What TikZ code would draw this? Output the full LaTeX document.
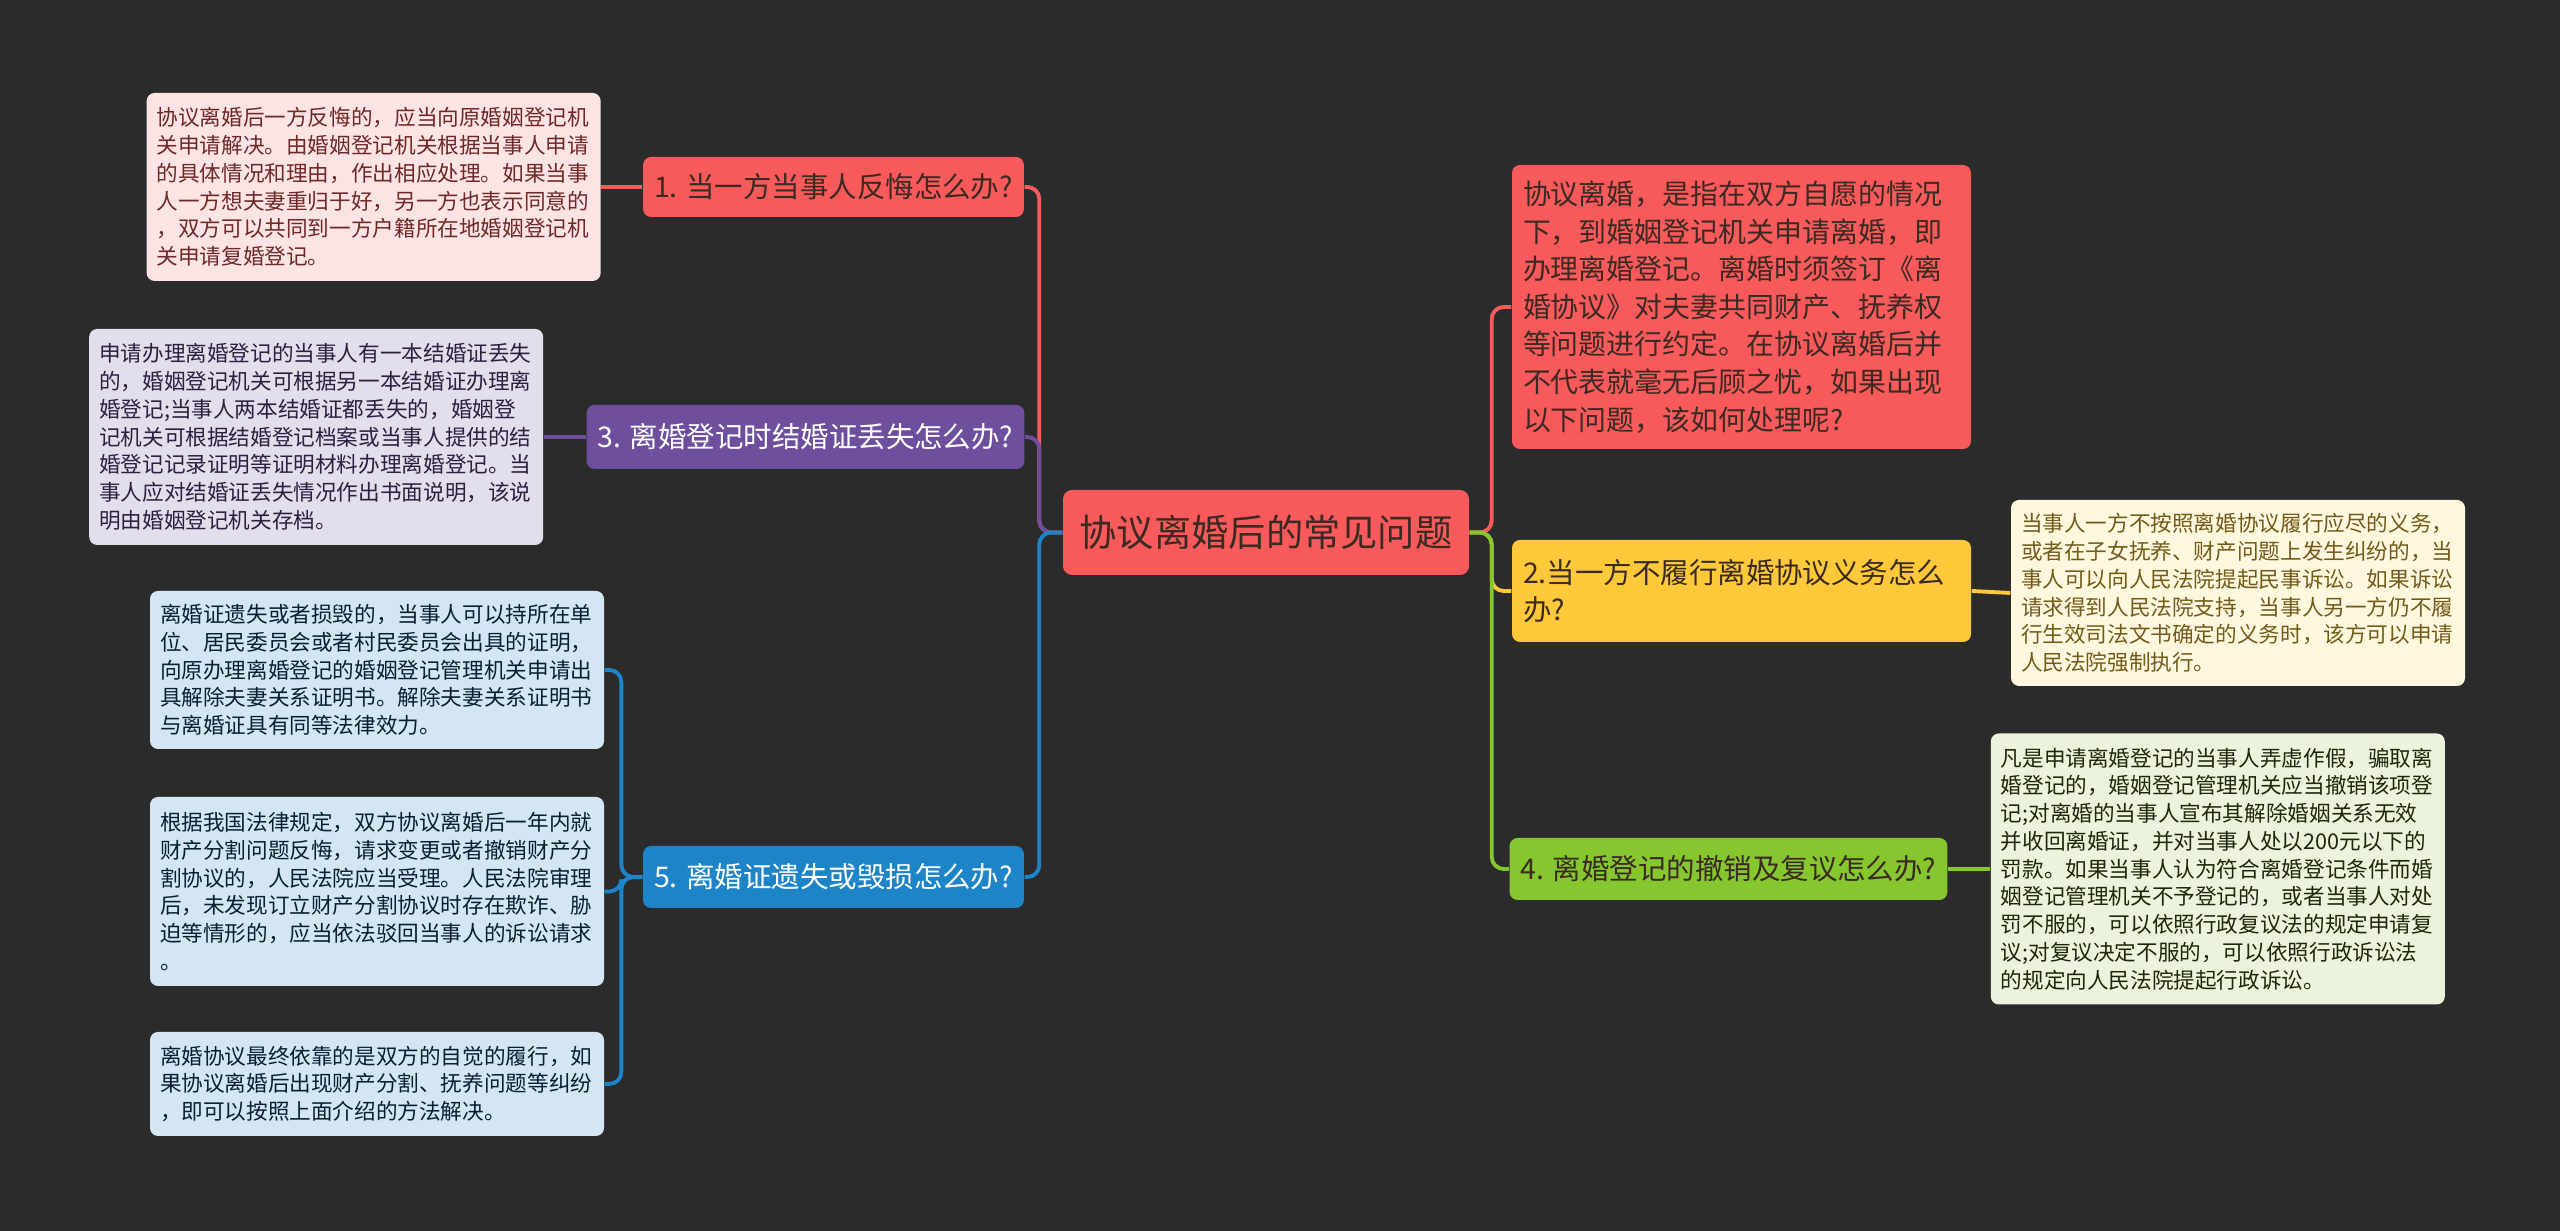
\documentclass[tikz,border=0pt]{standalone}
\usepackage{fontspec}
\setmainfont{Noto Sans CJK SC}
\usepackage{xcolor}
\usetikzlibrary{positioning}

\definecolor{beijing}{HTML}{2B2B2B}
\definecolor{hong}{HTML}{F85A5C}
\definecolor{zi}{HTML}{6E4F9E}
\definecolor{lan}{HTML}{1E84C8}
\definecolor{huang}{HTML}{FDC93A}
\definecolor{lv}{HTML}{86C72F}
\definecolor{fen}{HTML}{FDE4E4}
\definecolor{danzi}{HTML}{E3DEEC}
\definecolor{danlan}{HTML}{D3E6F2}
\definecolor{mi}{HTML}{FFF7DE}
\definecolor{danlv}{HTML}{EBF3DC}
\definecolor{shenzi}{HTML}{3A2A22}

\begin{document}
\begin{tikzpicture}[
            zhuti/.style={
                rectangle, rounded corners=0.09cm, fill=hong, text=shenzi,
                font=\fontsize{10.6pt}{13pt}\selectfont,
                minimum width=4.06cm, minimum height=0.85cm, inner sep=0pt
            },
            wenti/.style={
                rectangle, rounded corners=0.08cm, text=shenzi,
                font=\fontsize{8.1pt}{10.7pt}\selectfont,
                inner xsep=0.11cm, inner ysep=0pt
            },
            shuoming/.style={
                rectangle, rounded corners=0.08cm, align=left, text width=4.34cm,
                font=\fontsize{6.15pt}{7.9pt}\selectfont,
                inner xsep=0.1cm, inner ysep=0pt
            },
            xian/.style={line width=1.1pt, rounded corners=0.12cm}
        ]
            \fill[beijing] (0,0) rectangle (25.6,12.31);
            \useasboundingbox (0,0) rectangle (25.6,12.31);

            % Zhongxin
            \node[zhuti] (root) at (12.66,6.985) {协议离婚后的常见问题};

            % --- zuo bian ---
            \node[wenti, fill=hong, minimum width=3.77cm, minimum height=0.6cm] (n1) at (8.335,10.44) {1. 当一方当事人反悔怎么办?};
            \node[shuoming, fill=fen, text=hong!45!black, minimum height=1.88cm, left=0.41cm of n1] (l1) {协议离婚后一方反悔的，应当向原婚姻登记机\\关申请解决。由婚姻登记机关根据当事人申请\\的具体情况和理由，作出相应处理。如果当事\\人一方想夫妻重归于好，另一方也表示同意的\\，双方可以共同到一方户籍所在地婚姻登记机\\关申请复婚登记。};

            \node[wenti, fill=zi, text=white, minimum width=4.33cm, minimum height=0.64cm] (n3) at (8.055,7.94) {3. 离婚登记时结婚证丢失怎么办?};
            \node[shuoming, fill=danzi, text=zi!40!black, minimum height=2.16cm, left=0.42cm of n3] (l3) {申请办理离婚登记的当事人有一本结婚证丢失\\的，婚姻登记机关可根据另一本结婚证办理离\\婚登记;当事人两本结婚证都丢失的，婚姻登\\记机关可根据结婚登记档案或当事人提供的结\\婚登记记录证明等证明材料办理离婚登记。当\\事人应对结婚证丢失情况作出书面说明，该说\\明由婚姻登记机关存档。};

            \node[wenti, fill=lan, text=white, minimum width=3.77cm, minimum height=0.62cm] (n5) at (8.335,3.54) {5. 离婚证遗失或毁损怎么办?};
            \node[shuoming, fill=danlan, text=lan!25!black, minimum height=1.58cm] (l5a) at (3.77,5.61) {离婚证遗失或者损毁的，当事人可以持所在单\\位、居民委员会或者村民委员会出具的证明，\\向原办理离婚登记的婚姻登记管理机关申请出\\具解除夫妻关系证明书。解除夫妻关系证明书\\与离婚证具有同等法律效力。};
            \node[shuoming, fill=danlan, text=lan!25!black, minimum height=1.89cm] (l5b) at (3.77,3.395) {根据我国法律规定，双方协议离婚后一年内就\\财产分割问题反悔，请求变更或者撤销财产分\\割协议的，人民法院应当受理。人民法院审理\\后，未发现订立财产分割协议时存在欺诈、胁\\迫等情形的，应当依法驳回当事人的诉讼请求\\。};
            \node[shuoming, fill=danlan, text=lan!25!black, minimum height=1.04cm] (l5c) at (3.77,1.47) {离婚协议最终依靠的是双方的自觉的履行，如\\果协议离婚后出现财产分割、抚养问题等纠纷\\，即可以按照上面介绍的方法解决。};

            % --- you bian ---
            \node[wenti, fill=hong, align=left, text width=4.37cm, minimum height=2.84cm,
                font=\fontsize{7.95pt}{10.7pt}\selectfont] (r0) at (17.415,9.24) {协议离婚，是指在双方自愿的情况\\下，到婚姻登记机关申请离婚，即\\办理离婚登记。离婚时须签订《离\\婚协议》对夫妻共同财产、抚养权\\等问题进行约定。在协议离婚后并\\不代表就毫无后顾之忧，如果出现\\以下问题，该如何处理呢?};

            \node[wenti, fill=huang, align=left, text width=4.37cm, minimum height=1.02cm] (n2) at (17.415,6.40) {2.当一方不履行离婚协议义务怎么\\办?};
            \node[shuoming, fill=mi, text=huang!45!black, minimum height=1.86cm] (l2) at (22.38,6.38) {当事人一方不按照离婚协议履行应尽的义务，\\或者在子女抚养、财产问题上发生纠纷的，当\\事人可以向人民法院提起民事诉讼。如果诉讼\\请求得到人民法院支持，当事人另一方仍不履\\行生效司法文书确定的义务时，该方可以申请\\人民法院强制执行。};

            \node[wenti, fill=lv, minimum width=4.33cm, minimum height=0.62cm] (n4) at (17.285,3.62) {4. 离婚登记的撤销及复议怎么办?};
            \node[shuoming, fill=danlv, text=lv!20!black, minimum height=2.71cm, right=0.42cm of n4] (l4) {凡是申请离婚登记的当事人弄虚作假，骗取离\\婚登记的，婚姻登记管理机关应当撤销该项登\\记;对离婚的当事人宣布其解除婚姻关系无效\\并收回离婚证，并对当事人处以200元以下的\\罚款。如果当事人认为符合离婚登记条件而婚\\姻登记管理机关不予登记的，或者当事人对处\\罚不服的，可以依照行政复议法的规定申请复\\议;对复议决定不服的，可以依照行政诉讼法\\的规定向人民法院提起行政诉讼。};

            % lianxian
            \draw[xian, hong] (root.west) -- ++(-0.23,0) |- (n1.east);
            \draw[xian, zi] (root.west) -- ++(-0.23,0) |- (n3.east);
            \draw[xian, lan] (root.west) -- ++(-0.23,0) |- (n5.east);
            \draw[xian, hong] (root.east) -- ++(0.22,0) |- (r0.west);
            \draw[xian, huang] (root.east) -- ++(0.22,0) |- (n2.west);
            \draw[xian, lv] (root.east) -- ++(0.22,0) |- (n4.west);

            \draw[xian, hong] (n1.west) -- (l1.east);
            \draw[xian, zi] (n3.west) -- (l3.east);
            \draw[xian, lan] (n5.west) -- ++(-0.21,0) |- (l5a.east);
            \draw[xian, lan] (n5.west) -- ++(-0.21,0) |- (l5b.east);
            \draw[xian, lan] (n5.west) -- ++(-0.21,0) |- (l5c.east);
            \draw[xian, huang] (n2.east) -- (l2.west);
            \draw[xian, lv] (n4.east) -- (l4.west);

        \end{tikzpicture}
\end{document}
